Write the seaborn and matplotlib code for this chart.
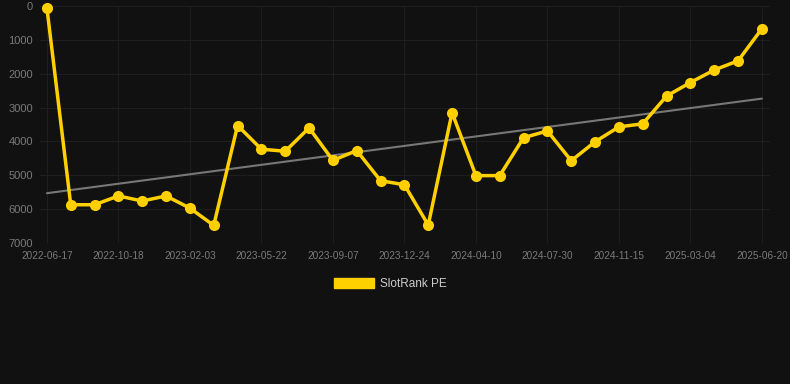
import numpy as np
import pandas as pd
import matplotlib
matplotlib.use("Agg")
import matplotlib.pyplot as plt
import matplotlib.patches as mpatches
import seaborn as sns

# slot rank over time (lower number = better rank, axis is inverted)
tick_labels = ['2022-06-17', '2022-10-18', '2023-02-03', '2023-05-22',
               '2023-09-07', '2023-12-24', '2024-04-10', '2024-07-30',
               '2024-11-15', '2025-03-04', '2025-06-20']
ranks = [60, 5870, 5870, 5610, 5760, 5610, 5970, 6480, 3530, 4230,
         4290, 3600, 4560, 4270, 5160, 5280, 6470, 3150, 5010, 5010,
         3890, 3690, 4570, 4010, 3570, 3480, 2660, 2260, 1890, 1620, 670]
series_name = 'SlotRank PE'

df = pd.DataFrame({'idx': np.arange(len(ranks)), 'rank': ranks})

sns.set_theme(style='dark')
plt.rcParams['font.family'] = ['Liberation Sans', 'DejaVu Sans']

bg = '#111111'
fig = plt.figure(figsize=(7.9, 3.84), dpi=100, facecolor=bg)
ax = fig.add_axes([40/790, 1-243/384, 730/790, 237/384])
ax.set_facecolor(bg)

# trend line
k, b = np.polyfit(df['idx'], df['rank'], 1)
ax.plot(df['idx'].iloc[[0, -1]], k*df['idx'].iloc[[0, -1]] + b,
        color='#777777', lw=1.5, zorder=2)

sns.lineplot(data=df, x='idx', y='rank', ax=ax, color='#FFD000', lw=2.5,
             marker='o', markersize=8, markeredgewidth=0, zorder=3,
             clip_on=False)

ax.set_ylim(7000, 0)
ax.set_xlim(-0.29, 30.34)
ax.set_yticks(range(0, 7001, 1000))
ax.set_xticks(range(0, len(ranks), 3))
ax.set_xticklabels(tick_labels)
ax.set_xlabel('')
ax.set_ylabel('')
ax.grid(True, color='#1e1e1e', lw=0.8)
for s in ax.spines.values():
    s.set_visible(False)
ax.tick_params(axis='x', colors='#1e1e1e', labelcolor='#7a7a7a',
               labelsize=7.2, length=4, pad=2)
ax.tick_params(axis='y', colors='#1e1e1e', labelcolor='#7a7a7a',
               labelsize=8, length=3, pad=2)

handle = mpatches.Patch(color='#FFD000', label=series_name)
fig.legend(handles=[handle], loc='center', bbox_to_anchor=(390/790, 1-284/384),
           frameon=False, fontsize=8.5, labelcolor='#cccccc',
           handlelength=3.4, handleheight=1.0, handletextpad=0.5)

fig.savefig('out.png', dpi=100, facecolor=bg)
